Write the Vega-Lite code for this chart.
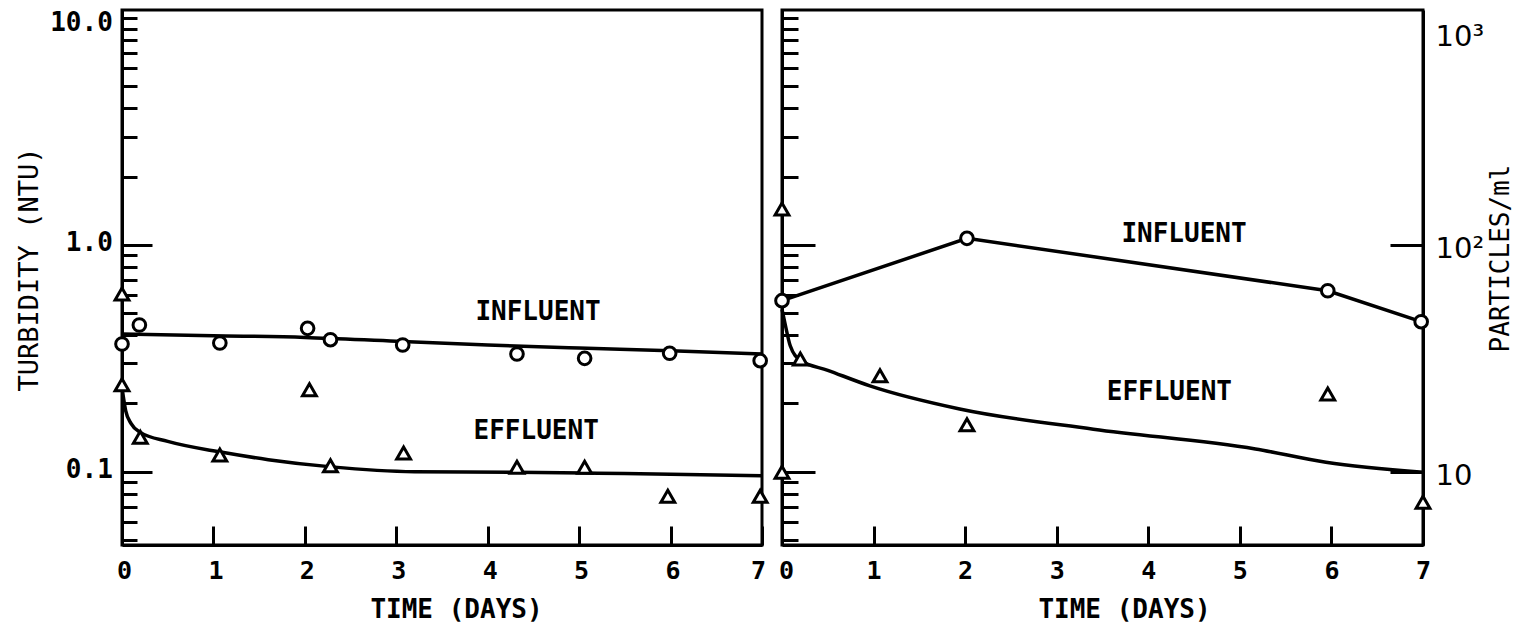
{
  "$schema": "https://vega.github.io/schema/vega-lite/v6.json",
  "background": "white",
  "padding": {"left": 13, "top": 7, "right": 0, "bottom": 0},
  "spacing": 20,
  "bounds": "flush",
  "config": {
    "view": {"stroke": "black", "strokeWidth": 3},
    "font": "DejaVu Sans Mono",
    "axis": {
      "grid": false,
      "domainColor": "black",
      "domainWidth": 3,
      "tickColor": "black",
      "tickWidth": 3,
      "labelColor": "black",
      "titleColor": "black",
      "labelFont": "DejaVu Sans Mono",
      "titleFont": "DejaVu Sans Mono",
      "labelOverlap": false,
      "labelBound": false,
      "labelFlush": false
    }
  },
  "datasets": {
    "obs": [
      {"panel": "L", "series": "influent", "day": 0, "value": 0.3656},
      {"panel": "L", "series": "influent", "day": 0.19, "value": 0.4433},
      {"panel": "L", "series": "influent", "day": 1.07, "value": 0.3693},
      {"panel": "L", "series": "influent", "day": 2.03, "value": 0.4287},
      {"panel": "L", "series": "influent", "day": 2.28, "value": 0.3819},
      {"panel": "L", "series": "influent", "day": 3.07, "value": 0.3619},
      {"panel": "L", "series": "influent", "day": 4.32, "value": 0.3304},
      {"panel": "L", "series": "influent", "day": 5.06, "value": 0.3162},
      {"panel": "L", "series": "influent", "day": 5.99, "value": 0.3327},
      {"panel": "L", "series": "influent", "day": 6.98, "value": 0.3086},
      {"panel": "L", "series": "effluent", "day": 0, "value": 0.6074},
      {"panel": "L", "series": "effluent", "day": 0, "value": 0.2417},
      {"panel": "L", "series": "effluent", "day": 0.2, "value": 0.1418},
      {"panel": "L", "series": "effluent", "day": 1.07, "value": 0.1185},
      {"panel": "L", "series": "effluent", "day": 2.05, "value": 0.2299},
      {"panel": "L", "series": "effluent", "day": 2.28, "value": 0.1063},
      {"panel": "L", "series": "effluent", "day": 3.08, "value": 0.1209},
      {"panel": "L", "series": "effluent", "day": 4.32, "value": 0.1046},
      {"panel": "L", "series": "effluent", "day": 5.06, "value": 0.1046},
      {"panel": "L", "series": "effluent", "day": 5.97, "value": 0.0779},
      {"panel": "L", "series": "effluent", "day": 6.98, "value": 0.0779},
      {"panel": "R", "series": "influent", "day": 0, "value": 56.75},
      {"panel": "R", "series": "influent", "day": 2.02, "value": 106.9},
      {"panel": "R", "series": "influent", "day": 5.96, "value": 62.8},
      {"panel": "R", "series": "influent", "day": 6.98, "value": 45.85},
      {"panel": "R", "series": "effluent", "day": 0, "value": 143.9},
      {"panel": "R", "series": "effluent", "day": 0, "value": 9.94},
      {"panel": "R", "series": "effluent", "day": 0.2, "value": 31.4},
      {"panel": "R", "series": "effluent", "day": 1.07, "value": 26.5},
      {"panel": "R", "series": "effluent", "day": 2.02, "value": 16.1},
      {"panel": "R", "series": "effluent", "day": 5.96, "value": 22.0},
      {"panel": "R", "series": "effluent", "day": 7, "value": 7.33}
    ],
    "fit": [
      {"panel": "L", "series": "influent", "day": 0, "value": 0.405},
      {"panel": "L", "series": "influent", "day": 1, "value": 0.398},
      {"panel": "L", "series": "influent", "day": 2, "value": 0.391},
      {"panel": "L", "series": "influent", "day": 3, "value": 0.376},
      {"panel": "L", "series": "influent", "day": 4, "value": 0.362},
      {"panel": "L", "series": "influent", "day": 5, "value": 0.351},
      {"panel": "L", "series": "influent", "day": 6, "value": 0.341},
      {"panel": "L", "series": "influent", "day": 7, "value": 0.330},
      {"panel": "L", "series": "effluent", "day": 0, "value": 0.235},
      {"panel": "L", "series": "effluent", "day": 0.04, "value": 0.186},
      {"panel": "L", "series": "effluent", "day": 0.1, "value": 0.163},
      {"panel": "L", "series": "effluent", "day": 0.2, "value": 0.149},
      {"panel": "L", "series": "effluent", "day": 0.5, "value": 0.136},
      {"panel": "L", "series": "effluent", "day": 1.08, "value": 0.122},
      {"panel": "L", "series": "effluent", "day": 1.6, "value": 0.113},
      {"panel": "L", "series": "effluent", "day": 2.29, "value": 0.105},
      {"panel": "L", "series": "effluent", "day": 3.2, "value": 0.100},
      {"panel": "L", "series": "effluent", "day": 4.3, "value": 0.0995},
      {"panel": "L", "series": "effluent", "day": 5.2, "value": 0.0985},
      {"panel": "L", "series": "effluent", "day": 6, "value": 0.0975},
      {"panel": "L", "series": "effluent", "day": 7, "value": 0.0960},
      {"panel": "R", "series": "effluent", "day": 0, "value": 52},
      {"panel": "R", "series": "effluent", "day": 0.03, "value": 45.6},
      {"panel": "R", "series": "effluent", "day": 0.09, "value": 35.9},
      {"panel": "R", "series": "effluent", "day": 0.2, "value": 31.0},
      {"panel": "R", "series": "effluent", "day": 0.5, "value": 28.0},
      {"panel": "R", "series": "effluent", "day": 0.96, "value": 23.9},
      {"panel": "R", "series": "effluent", "day": 1.94, "value": 18.9},
      {"panel": "R", "series": "effluent", "day": 3.4, "value": 15.4},
      {"panel": "R", "series": "effluent", "day": 5.17, "value": 12.6},
      {"panel": "R", "series": "effluent", "day": 5.94, "value": 11.0},
      {"panel": "R", "series": "effluent", "day": 7, "value": 9.94}
    ],
    "notes": [
      {"panel": "L", "day": 4.55, "value": 0.5044, "label": "INFLUENT"},
      {"panel": "L", "day": 4.53, "value": 0.1517, "label": "EFFLUENT"},
      {"panel": "R", "day": 4.39, "value": 111.7, "label": "INFLUENT"},
      {"panel": "R", "day": 4.23, "value": 22.4, "label": "EFFLUENT"}
    ]
  },
  "hconcat": [
    {
      "width": 640,
      "height": 535,
      "encoding": {
        "x": {
          "field": "day",
          "type": "quantitative",
          "scale": {"domain": [0, 7], "nice": false, "zero": false},
          "axis": {
            "orient": "bottom",
            "values": [0, 1, 2, 3, 4, 5, 6, 7],
            "tickSize": -19,
            "labelPadding": 44,
            "labelBaseline": "middle",
            "labelFontSize": 25,
            "labelFontWeight": "bold",
            "labelOffset": {"condition": {"test": "datum.value == 7", "value": -4}, "value": 2},
            "title": "TIME (DAYS)",
            "titleX": 334,
            "titleY": 64,
            "titleAlign": "center",
            "titleBaseline": "middle",
            "titleFontSize": 26,
            "titleFontWeight": "bold"
          }
        },
        "y": {
          "field": "value",
          "type": "quantitative",
          "scale": {"type": "log", "domain": [0.0475, 10.86], "nice": false},
          "axis": {
            "orient": "left",
            "values": [0.05, 0.06, 0.07, 0.08, 0.09, 0.1, 0.2, 0.3, 0.4, 0.5, 0.6, 0.7, 0.8, 0.9, 1, 2, 3, 4, 5, 6, 7, 8, 9, 10],
            "tickSize": {"condition": {"test": "datum.value == 0.1 || datum.value == 1", "value": -30}, "value": -15},
            "labelPadding": {"condition": {"test": "datum.value == 0.1 || datum.value == 1", "value": 39.7}, "value": 24.7},
            "labelExpr": "datum.value == 10 ? '10.0' : datum.value == 1 ? '1.0' : datum.value == 0.1 ? '0.1' : ''",
            "labelOffset": {"condition": {"test": "datum.value == 10", "value": 4}, "value": -2},
            "labelAlign": "right",
            "labelBaseline": "middle",
            "labelFontSize": 26,
            "labelFontWeight": "bold",
            "title": "TURBIDITY (NTU)",
            "titleX": -93,
            "titleY": 259,
            "titleAngle": 270,
            "titleAlign": "center",
            "titleBaseline": "middle",
            "titleFontSize": 27,
            "titleFontWeight": "normal"
          }
        }
      },
      "layer": [
        {
          "data": {"name": "fit"},
          "transform": [{"filter": "datum.panel == 'L'"}],
          "mark": {"type": "line", "color": "black", "strokeWidth": 3.5, "interpolate": "monotone"},
          "encoding": {"detail": {"field": "series"}}
        },
        {
          "data": {"name": "obs"},
          "transform": [{"filter": "datum.panel == 'L' && datum.series == 'influent'"}],
          "mark": {"type": "point", "shape": "circle", "size": 160, "filled": true, "fill": "white", "stroke": "black", "strokeWidth": 3, "opacity": 1}
        },
        {
          "data": {"name": "obs"},
          "transform": [{"filter": "datum.panel == 'L' && datum.series == 'effluent'"}],
          "mark": {"type": "point", "shape": "triangle-up", "size": 190, "filled": true, "fill": "white", "stroke": "black", "strokeWidth": 3, "opacity": 1}
        },
        {
          "data": {"name": "notes"},
          "transform": [{"filter": "datum.panel == 'L'"}],
          "mark": {"type": "text", "fontSize": 26, "fontWeight": "bold", "font": "DejaVu Sans Mono", "color": "black", "align": "center", "baseline": "middle"},
          "encoding": {"text": {"field": "label"}}
        }
      ]
    },
    {
      "width": 641,
      "height": 535,
      "resolve": {"axis": {"y": "independent"}},
      "encoding": {
        "x": {
          "field": "day",
          "type": "quantitative",
          "scale": {"domain": [0, 7], "nice": false, "zero": false},
          "axis": {
            "orient": "bottom",
            "values": [0, 1, 2, 3, 4, 5, 6, 7],
            "tickSize": -19,
            "labelPadding": 44,
            "labelBaseline": "middle",
            "labelFontSize": 25,
            "labelFontWeight": "bold",
            "labelOffset": {"condition": {"test": "datum.value == 0", "value": 4}, "value": 0},
            "title": "TIME (DAYS)",
            "titleX": 342,
            "titleY": 64,
            "titleAlign": "center",
            "titleBaseline": "middle",
            "titleFontSize": 26,
            "titleFontWeight": "bold"
          }
        }
      },
      "layer": [
        {
          "data": {"name": "fit"},
          "transform": [{"filter": "datum.panel == 'R'"}],
          "mark": {"type": "line", "color": "black", "strokeWidth": 3.5, "interpolate": "monotone"},
          "encoding": {
            "y": {
              "field": "value",
              "type": "quantitative",
              "scale": {"type": "log", "domain": [4.75, 1086], "nice": false},
              "axis": {
                "orient": "left",
                "values": [5, 6, 7, 8, 9, 10, 20, 30, 40, 50, 60, 70, 80, 90, 100, 200, 300, 400, 500, 600, 700, 800, 900, 1000],
                "tickSize": {"condition": {"test": "datum.value == 10 || datum.value == 100", "value": -33}, "value": -16},
                "labels": false,
                "title": null
              }
            }
          }
        },
        {
          "data": {"name": "obs"},
          "transform": [{"filter": "datum.panel == 'R' && datum.series == 'influent'"}],
          "mark": {"type": "line", "color": "black", "strokeWidth": 3.5},
          "encoding": {
            "y": {
              "field": "value",
              "type": "quantitative",
              "scale": {"type": "log", "domain": [4.75, 1086], "nice": false},
              "axis": {
                "orient": "right",
                "values": [10, 100, 1000],
                "tickSize": -33,
                "tickOpacity": {"condition": {"test": "datum.value == 1000", "value": 0}, "value": 1},
                "labelPadding": 45,
                "labelExpr": "datum.value == 1000 ? '10³' : datum.value == 100 ? '10²' : '10'",
                "labelOffset": {"condition": {"test": "datum.value == 1000", "value": 18}, "value": 4},
                "labelAlign": "left",
                "labelBaseline": "middle",
                "labelFont": "DejaVu Sans",
                "labelFontSize": 29,
                "labelFontWeight": "normal",
                "title": "PARTICLES/ml",
                "titleX": 77,
                "titleY": 248,
                "titleAngle": 270,
                "titleAlign": "center",
                "titleBaseline": "middle",
                "titleFontSize": 26,
                "titleFontWeight": "normal"
              }
            }
          }
        },
        {
          "data": {"name": "obs"},
          "transform": [{"filter": "datum.panel == 'R' && datum.series == 'influent'"}],
          "mark": {"type": "point", "shape": "circle", "size": 160, "filled": true, "fill": "white", "stroke": "black", "strokeWidth": 3, "opacity": 1},
          "encoding": {
            "y": {"field": "value", "type": "quantitative", "scale": {"type": "log", "domain": [4.75, 1086], "nice": false}, "axis": null}
          }
        },
        {
          "data": {"name": "obs"},
          "transform": [{"filter": "datum.panel == 'R' && datum.series == 'effluent'"}],
          "mark": {"type": "point", "shape": "triangle-up", "size": 190, "filled": true, "fill": "white", "stroke": "black", "strokeWidth": 3, "opacity": 1},
          "encoding": {
            "y": {"field": "value", "type": "quantitative", "scale": {"type": "log", "domain": [4.75, 1086], "nice": false}, "axis": null}
          }
        },
        {
          "data": {"name": "notes"},
          "transform": [{"filter": "datum.panel == 'R'"}],
          "mark": {"type": "text", "fontSize": 26, "fontWeight": "bold", "font": "DejaVu Sans Mono", "color": "black", "align": "center", "baseline": "middle"},
          "encoding": {
            "y": {"field": "value", "type": "quantitative", "scale": {"type": "log", "domain": [4.75, 1086], "nice": false}, "axis": null},
            "text": {"field": "label"}
          }
        }
      ]
    }
  ]
}
